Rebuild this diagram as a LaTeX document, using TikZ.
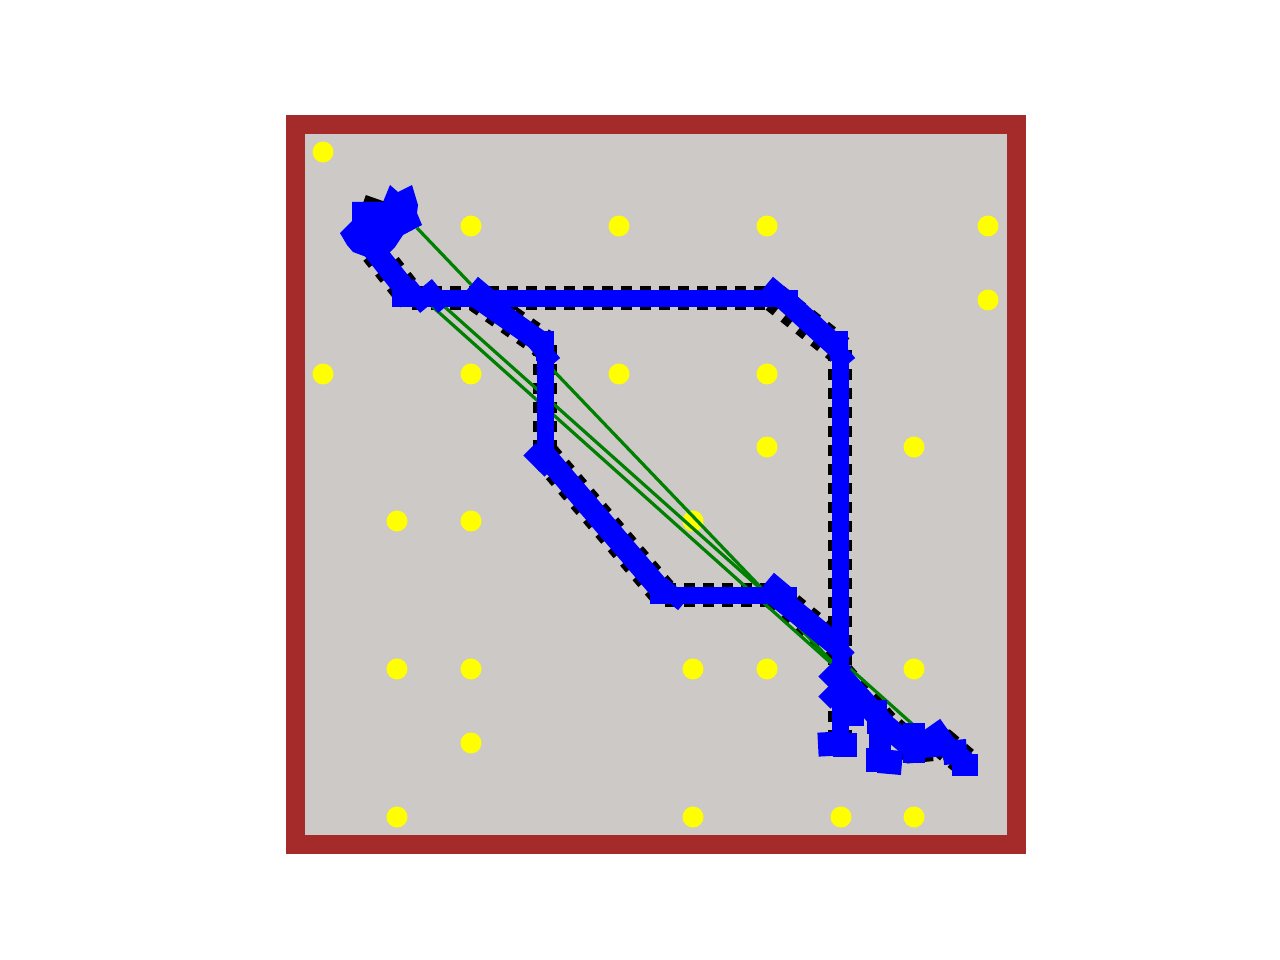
\documentclass[tikz,border=0pt]{standalone}
\definecolor{framebrown}{RGB}{165,42,42}
\definecolor{floorgray}{RGB}{205,201,198}
\definecolor{guidegreen}{RGB}{0,128,0}
\definecolor{robotblue}{RGB}{0,0,255}
\definecolor{dotyellow}{RGB}{255,255,0}
\tikzset{
  refpath/.style={line width=24pt, dash pattern=on 11pt off 8pt, black},
  refdiag/.style={line width=30pt, dash pattern=on 9pt off 10pt, black},
  robotband/.style={line width=17pt, robotblue},
  diagband/.style={line width=22pt, robotblue, line join=round},
  guide/.style={line width=3.2pt, guidegreen},
  landmark/.style={fill=dotyellow},
}
% #1,#2 centre, #3 angle, #4 half length, #5 half width
\newcommand{\robotat}[5]{\fill[robotblue, shift={(#1,#2)}, rotate=#3] (-#4,-#5) rectangle (#4,#5);}
\begin{document}
\begin{tikzpicture}[x=1pt,y=-1pt]
\useasboundingbox (0,0) rectangle (1280,960);
% frame
\fill[framebrown] (286,115) rectangle (1026,854);
\fill[floorgray] (305,134) rectangle (1007,835);
% landmarks
\foreach \x/\y in {323/152, 471/226, 619/226, 767/226, 988/226, 988/300,
  323/374, 471/374, 619/374, 767/374, 767/447, 914/447,
  397/521, 471/521, 693/521,
  397/669, 471/669, 693/669, 767/669, 914/669,
  471/743, 397/817, 693/817, 841/817, 914/817}
  \fill[landmark] (\x,\y) circle[radius=10.5];
% path coordinates
\coordinate (s0) at (380,200);
\coordinate (s1) at (366,240);
\coordinate (a1) at (412,298);
\coordinate (a2) at (775,298);
\coordinate (a3) at (840,350);
\coordinate (a4) at (840,742);
\coordinate (b0) at (478,298);
\coordinate (b1) at (545,345);
\coordinate (b2) at (545,455);
\coordinate (b3) at (665,595);
\coordinate (b4) at (775,595);
\coordinate (b5) at (840,648);
\coordinate (c0) at (840,675);
\coordinate (c1) at (885,725);
\coordinate (c2) at (912,748);
\coordinate (c3) at (945,745);
\coordinate (c4) at (965,762);
% reference (dashed) paths
\draw[refdiag] (s0) -- (s1) -- (a1);
\draw[refpath] (a1) -- (a2);
\draw[refdiag] (a2) -- (a3);
\draw[refpath] (a3) -- (a4);
\draw[refdiag] (b0) -- (b1);
\draw[refpath] (b1) -- (b2);
\draw[refdiag] (b2) -- (b3);
\draw[refpath] (b3) -- (b4);
\draw[refdiag] (b4) -- (b5);
\draw[refdiag] (c0) -- (c1) -- (c2) -- (c3) -- (c4);
% guide lines
\coordinate (gA0) at (417,228);
\coordinate (gA1) at (838,668);
\coordinate (gB0) at (425,300);
\coordinate (gB1) at (832,664);
\coordinate (gC0) at (437,300);
\coordinate (gC1) at (947,755);
\draw[guide] (gA0) -- (gA1);
\draw[guide] (gB0) -- (gB1);
\draw[guide] (gC0) -- (gC1);
% robot trace
\draw[diagband] (s1) -- (a1);
\draw[robotband] (a1) -- (783,298);
\draw[diagband] (783,298) -- (a3);
\draw[robotband] (a3) -- (a4);
\draw[diagband] (b0) -- (b1);
\draw[robotband] (b1) -- (b2);
\draw[diagband] (b2) -- (b3);
\draw[robotband] (b3) -- (b4);
\draw[diagband] (b4) -- (b5);
\draw[diagband] (c0) -- (c1) -- (c2) -- (c3) -- (c4);
% start cluster
\fill[robotblue] (352,202) -- (383,202) -- (390,185) -- (398,192) -- (412,185)
  -- (418,205) -- (417,213) -- (422,225) -- (403,235) -- (395,247)
  -- (380,262) -- (353,252) -- (347,245) -- (340,233) -- (352,221) -- cycle;
\robotat{357}{238}{-45}{15}{8.5}
\robotat{378}{255}{-55}{15}{9}
% corners
\robotat{407}{298}{0}{15}{8.5}
\robotat{417}{296}{-50}{15}{8.5}
\robotat{435}{296}{-50}{15}{8.5}
\robotat{484}{293}{-40}{15}{8.5}
\robotat{783}{298}{0}{15}{8.5}
\robotat{779}{293}{-40}{15}{8.5}
\robotat{839}{346}{-90}{15}{9}
\robotat{839}{352}{-50}{15}{8.5}
\robotat{545}{346}{-90}{15}{9}
\robotat{544}{352}{-50}{15}{8.5}
\robotat{540}{460}{-45}{15}{8.5}
\robotat{672}{594}{-40}{15}{8.5}
\robotat{665}{595}{0}{15}{8.5}
\robotat{782}{595}{0}{15}{8.5}
\robotat{780}{589}{-40}{15}{8.5}
\robotat{838}{648}{-45}{15}{8.5}
\robotat{835}{672}{45}{15}{8.5}
\robotat{835}{692}{45}{15}{8.5}
% goal cluster
\robotat{830}{744}{3}{12}{12}
\robotat{845}{745}{0}{12}{12}
\robotat{852}{712}{0}{12}{14}
\robotat{877}{717}{0}{10}{17}
\robotat{880}{740}{0}{11}{12}
\robotat{878}{760}{0}{12}{12}
\robotat{890}{762}{-5}{12}{12}
\robotat{914}{743}{0}{11}{20}
\robotat{937}{737}{35}{13}{13}
\robotat{955}{752}{5}{12}{12}
\robotat{965}{765}{0}{13}{11}
\end{tikzpicture}
\end{document}
